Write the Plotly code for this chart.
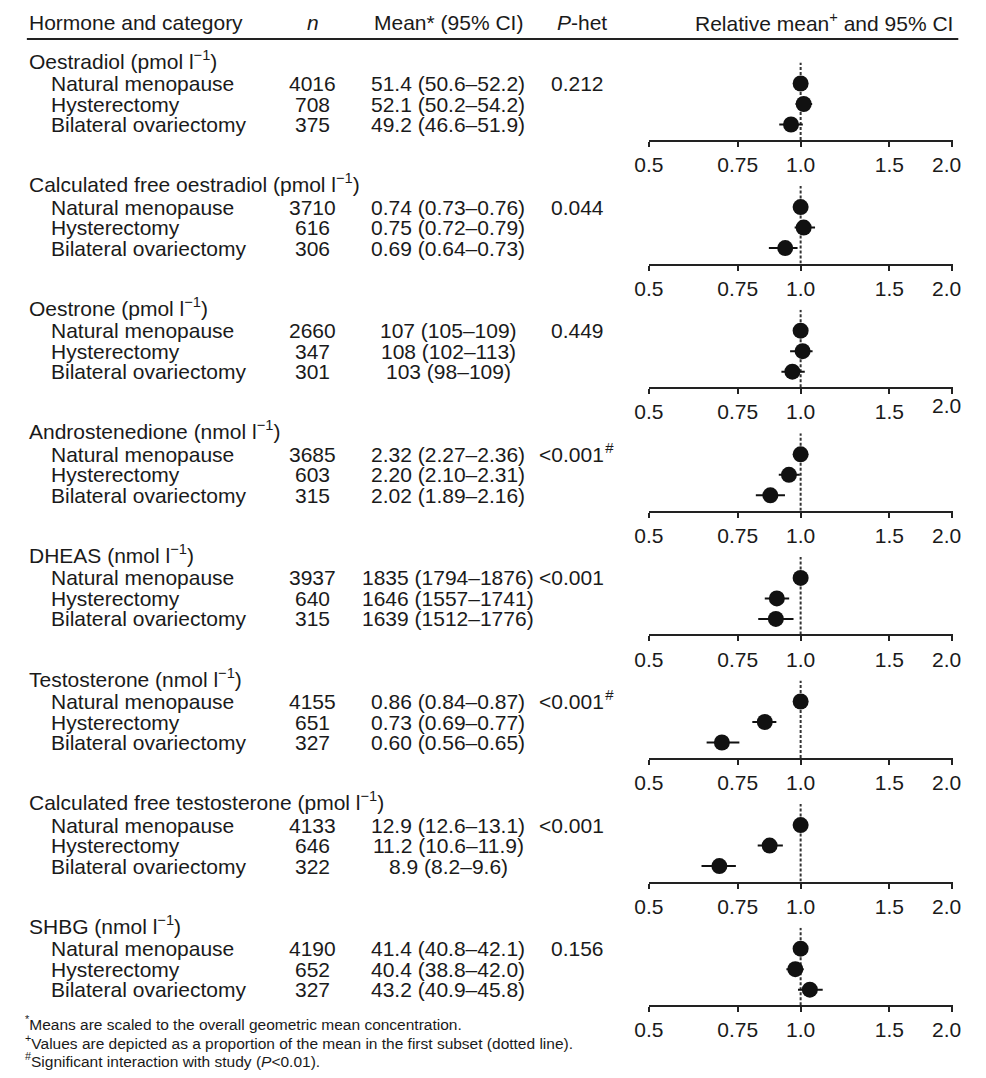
import math
import plotly.graph_objects as go

# ---------------- data ----------------
hormones = [
    "Oestradiol (pmol l<sup>−1</sup>)",
    "Calculated free oestradiol (pmol l<sup>−1</sup>)",
    "Oestrone (pmol l<sup>−1</sup>)",
    "Androstenedione (nmol l<sup>−1</sup>)",
    "DHEAS (nmol l<sup>−1</sup>)",
    "Testosterone (nmol l<sup>−1</sup>)",
    "Calculated free testosterone (pmol l<sup>−1</sup>)",
    "SHBG (nmol l<sup>−1</sup>)",
]
categories = ["Natural menopause", "Hysterectomy", "Bilateral ovariectomy"]
n_values = [
    [4016, 708, 375],
    [3710, 616, 306],
    [2660, 347, 301],
    [3685, 603, 315],
    [3937, 640, 315],
    [4155, 651, 327],
    [4133, 646, 322],
    [4190, 652, 327],
]
mean_ci = [
    ["51.4 (50.6–52.2)", "52.1 (50.2–54.2)", "49.2 (46.6–51.9)"],
    ["0.74 (0.73–0.76)", "0.75 (0.72–0.79)", "0.69 (0.64–0.73)"],
    ["107 (105–109)", "108 (102–113)", "103 (98–109)"],
    ["2.32 (2.27–2.36)", "2.20 (2.10–2.31)", "2.02 (1.89–2.16)"],
    ["1835 (1794–1876)", "1646 (1557–1741)", "1639 (1512–1776)"],
    ["0.86 (0.84–0.87)", "0.73 (0.69–0.77)", "0.60 (0.56–0.65)"],
    ["12.9 (12.6–13.1)", "11.2 (10.6–11.9)", "8.9 (8.2–9.6)"],
    ["41.4 (40.8–42.1)", "40.4 (38.8–42.0)", "43.2 (40.9–45.8)"],
]
p_het = ["0.212", "0.044", "0.449", "&lt;0.001", "&lt;0.001", "&lt;0.001", "&lt;0.001", "0.156"]
p_flag = [False, False, False, True, False, True, False, False]

# relative mean and 95% CI (proportion of first subset)
rel = [
    [1.000, 1.014, 0.957],
    [1.000, 1.014, 0.932],
    [1.000, 1.009, 0.963],
    [1.000, 0.948, 0.871],
    [1.000, 0.897, 0.893],
    [1.000, 0.849, 0.698],
    [1.000, 0.868, 0.690],
    [1.000, 0.976, 1.043],
]
rel_lo = [
    [0.984, 0.977, 0.907],
    [0.986, 0.973, 0.865],
    [0.981, 0.953, 0.916],
    [0.978, 0.905, 0.815],
    [0.978, 0.849, 0.824],
    [0.977, 0.802, 0.651],
    [0.977, 0.822, 0.636],
    [0.986, 0.937, 0.988],
]
rel_hi = [
    [1.016, 1.054, 1.010],
    [1.027, 1.068, 0.986],
    [1.019, 1.056, 1.019],
    [1.017, 0.996, 0.931],
    [1.022, 0.949, 0.968],
    [1.012, 0.895, 0.756],
    [1.016, 0.922, 0.744],
    [1.017, 1.014, 1.106],
]
tick_vals = [0.5, 0.75, 1.0, 1.5, 2.0]
tick_text = ["0.5", "0.75", "1.0", "1.5", "2.0"]
reference_value = 1.0

headers = ["Hormone and category", "<i>n</i>", "Mean* (95% CI)", "<i>P</i>-het",
           "Relative mean<sup>+</sup> and 95% CI"]
footnotes = [
    "<sup>*</sup>Means are scaled to the overall geometric mean concentration.",
    "<sup>+</sup>Values are depicted as a proportion of the mean in the first subset (dotted line).",
    "<sup>#</sup>Significant interaction with study (<i>P</i>&lt;0.01).",
]

# ---------------- layout geometry (page pixel coords) ----------------
PAGE_OFF = 8            # default body margin of the html page
FW, FH = 978, 1062      # figure size
FONT = "Liberation Sans, Arial, Helvetica, sans-serif"
TXT = "#1a1a1a"
FS = 21
T0, STEP = 59.5, 123.6
ROW0, ROWSTEP = 24, 20.5
DOT_TOP, AXIS_OFF = 3, 80.5
X_LEFT, X_RIGHT = 657, 972
NBSP = "\u00a0"


def px(x):
    return (x - PAGE_OFF) / FW


def py(y):
    return 1 - (y - PAGE_OFF) / FH


fig = go.Figure()
annotations = []
shapes = []


def add_text(text, x, y, anchor="left", size=FS, **kw):
    annotations.append(dict(
        text=text, x=px(x), y=py(y), xref="paper", yref="paper",
        xanchor=anchor, yanchor="middle", showarrow=False,
        font=dict(family=FONT, size=size, color=TXT), **kw))


# header
HY = 22
add_text(headers[0], 12, HY)
add_text(headers[1], 309, HY, "center")
add_text(headers[2], 449, HY, "center")
add_text(headers[3], 560, HY)
add_text(headers[4], 975, HY, "right")
shapes.append(dict(type="line", xref="paper", yref="paper", x0=px(12), x1=px(978),
                   y0=py(39), y1=py(39), line=dict(color="#222", width=2)))

yr = [(AXIS_OFF - ROW0) / ROWSTEP, (DOT_TOP - ROW0) / ROWSTEP]

for i in range(len(hormones)):
    T = T0 + STEP * i
    add_text(hormones[i], 12, T)
    for k in range(3):
        ry = T + ROW0 + ROWSTEP * k
        add_text(categories[k], 35, ry)
        add_text(str(n_values[i][k]), 308, ry, "center")
        add_text(mean_ci[i][k], 449, ry, "center")
    ry0 = T + ROW0
    add_text(p_het[i], 613, ry0, "right")
    if p_flag[i]:
        add_text("<i>#</i>", 610, ry0 - 7, "left", size=15)

    ax = "" if i == 0 else str(i + 1)
    xa = "x" + ax
    ya = "y" + ax
    # dotted reference line
    fig.add_trace(go.Scatter(
        x=[reference_value, reference_value], y=yr, mode="lines",
        line=dict(color="#333", width=2, dash="3px,2px"),
        xaxis=xa, yaxis=ya, hoverinfo="skip", showlegend=False, cliponaxis=False))
    fig.add_trace(go.Scatter(
        x=rel[i], y=[0, 1, 2], mode="markers",
        marker=dict(size=16, color="#111", line=dict(width=0)),
        error_x=dict(type="data", symmetric=False,
                     array=[h - r for h, r in zip(rel_hi[i], rel[i])],
                     arrayminus=[r - l for r, l in zip(rel[i], rel_lo[i])],
                     thickness=2, width=0, color="#111"),
        xaxis=xa, yaxis=ya, hoverinfo="skip", showlegend=False, cliponaxis=False))

    # last tick label sits a little left of its tick (pad with no-break spaces)
    ttext = tick_text[:-1] + [tick_text[-1] + NBSP * 2]
    if i == 2:
        # in this panel the "2.0" label is printed slightly raised
        ttext = tick_text[:-1] + [""]
        annotations.append(dict(
            text=tick_text[-1], x=math.log10(tick_vals[-1]), xref=xa,
            y=py(T + AXIS_OFF + 18), yref="paper", xanchor="center", yanchor="middle",
            xshift=-6, showarrow=False,
            font=dict(family=FONT, size=FS, color=TXT)))

    top_px = T + DOT_TOP
    bot_px = T + AXIS_OFF
    fig.update_layout(**{
        "xaxis" + ax: dict(
            type="log", range=[math.log10(tick_vals[0]) - 1e-4, math.log10(tick_vals[-1]) + 1e-4],
            domain=[px(X_LEFT), px(X_RIGHT)], anchor=ya,
            showline=True, linewidth=2, linecolor="#222",
            ticks="outside", ticklen=5, tickwidth=2, tickcolor="#222",
            tickvals=tick_vals, ticktext=ttext, ticklabeloverflow="allow",
            tickfont=dict(family=FONT, size=FS, color=TXT),
            showgrid=False, zeroline=False, fixedrange=True),
        "yaxis" + ax: dict(
            domain=[py(bot_px), py(top_px)], range=yr, anchor=xa,
            visible=False, showgrid=False, zeroline=False, fixedrange=True),
    })

# footnotes
for j, f in enumerate(footnotes):
    add_text(f, 8, 1023 + 18.5 * j, size=15.5)

fig.update_layout(
    width=FW, height=FH, margin=dict(l=0, r=0, t=0, b=0),
    paper_bgcolor="white", plot_bgcolor="rgba(0,0,0,0)",
    annotations=annotations, shapes=shapes, showlegend=False,
)
fig.write_html("out.html")
